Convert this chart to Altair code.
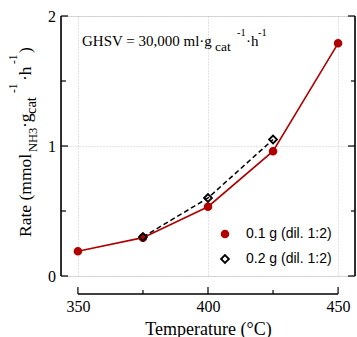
import altair as alt
import pandas as pd

# ---- data ----
temps_a = [350, 375, 400, 425, 450]
rate_a = [0.19, 0.295, 0.533, 0.96, 1.79]
temps_b = [375, 400, 425]
rate_b = [0.30, 0.60, 1.05]
series = ["0.1 g (dil. 1:2)", "0.2 g (dil. 1:2)"]

x_major = [350, 400, 450]
x_minor = [375, 425]
y_major = [0, 1, 2]
y_minor = [0.5, 1.5]
x_line_span = [350, 450]

# ---- layout ----
RED = "#b00000"
W, H = 294, 260          # plot area
OX, OY = 61, 16          # plot origin in page pixels
SERIF = "Liberation Serif"
SANS = "Liberation Sans"

df = pd.DataFrame({
    "T": temps_a + temps_b,
    "rate": rate_a + rate_b,
    "series": [series[0]] * len(temps_a) + [series[1]] * len(temps_b),
})

xscale = alt.Scale(domain=[343.5, 456.5], nice=False, zero=False)
yscale = alt.Scale(domain=[0, 2], nice=False, zero=False)

xaxis = alt.Axis(orient="bottom", values=x_major, grid=True, gridDash=[1, 2], gridColor="#c4c4c4",
                 domain=False, ticks=False, labelFont=SERIF, labelFontSize=16,
                 labelColor="black", labelPadding=4, offset=18,
                 title="Temperature (°C)", titleFont=SERIF, titleFontSize=18,
                 titleFontWeight="normal", titleColor="black", titlePadding=6,
                 format="d", labelFlush=False)
yaxis = alt.Axis(orient="left", values=y_major, grid=True, gridDash=[1, 2], gridColor="#c4c4c4",
                 domain=False, ticks=False, labels=False, title=None)

X = lambda f: alt.X(f, scale=xscale, axis=xaxis)
Y = lambda f: alt.Y(f, scale=yscale, axis=yaxis)

lineA = alt.Chart(df).transform_filter(alt.datum.series == series[0]).mark_line(
    color=RED, strokeWidth=1.6).encode(x=X("T:Q"), y=Y("rate:Q"))
lineB = alt.Chart(df).transform_filter(alt.datum.series == series[1]).mark_line(
    color="black", strokeWidth=1.5, strokeDash=[5, 3]).encode(x=X("T:Q"), y=Y("rate:Q"))

leg = alt.Legend(title=None, orient="none", legendX=157, legendY=211,
                 labelFont=SANS, labelFontSize=14, labelColor="black",
                 symbolStrokeWidth=1.8, rowPadding=10, labelOffset=14,
                 padding=0)
points = alt.Chart(df).mark_point(filled=False, strokeWidth=1.8, opacity=1).encode(
    x=X("T:Q"), y=Y("rate:Q"),
    shape=alt.Shape("series:N", scale=alt.Scale(domain=series, range=["circle", "diamond"]), legend=leg),
    fill=alt.Fill("series:N", scale=alt.Scale(domain=series, range=[RED, "transparent"]), legend=leg),
    stroke=alt.Stroke("series:N", scale=alt.Scale(domain=series, range=[RED, "black"]), legend=leg),
    size=alt.Size("series:N", scale=alt.Scale(domain=series, range=[46, 62]), legend=leg),
)

def vdata(vals):
    return alt.Data(values=[{"v": v} for v in vals])

def rule_y(vals, x0, x1):
    return alt.Chart(vdata(vals)).mark_rule(color="black", strokeWidth=1.2).encode(
        y=Y("v:Q"), x=alt.value(x0), x2=alt.value(x1))

def rule_x(vals, y0, y1):
    return alt.Chart(vdata(vals)).mark_rule(color="black", strokeWidth=1.2).encode(
        x=X("v:Q"), y=alt.value(y0), y2=alt.value(y1))

AXY = 278  # x-axis line position in plot pixels
ticks = [
    rule_y(y_major, 0, 7), rule_y(y_minor, 0, 5),
    rule_y(y_major, W, W - 7), rule_y(y_minor, W, W - 4),
    rule_x(x_major, AXY, AXY - 7), rule_x(x_minor, AXY, AXY - 4),
]
ylabels = alt.Chart(vdata(y_major)).mark_text(
    font=SERIF, fontSize=16, color="black", align="right", baseline="middle", dy=0.5
).encode(y=Y("v:Q"), x=alt.value(-5), text=alt.Text("v:Q", format="d"))

spines = [
    alt.Chart(vdata([0])).mark_rule(color="black", strokeWidth=1.6).encode(
        x=alt.value(0), y=alt.value(0), y2=alt.value(H)),
    alt.Chart(vdata([0])).mark_rule(color="black", strokeWidth=1.6).encode(
        x=alt.value(W), y=alt.value(0), y2=alt.value(H)),
    alt.Chart(alt.Data(values=[{"a": x_line_span[0], "b": x_line_span[1]}])).mark_rule(
        color="black", strokeWidth=1.6).encode(x=X("a:Q"), x2=alt.X2("b:Q"), y=alt.value(AXY)),
]

def txt(s, px, py, size, angle=0):
    return alt.Chart(vdata([0])).mark_text(
        text=s, font=SERIF, fontSize=size, color="black", align="left",
        baseline="alphabetic", angle=angle).encode(x=alt.value(px - OX), y=alt.value(py - OY))

# GHSV annotation (page pixel positions of pieces)
ghsv = [
    ("GHSV = 30,000 ml·g", 82, 45.5, 15),
    ("cat", 215, 50.5, 13.5),
    ("-1", 237, 36, 10.5),
    ("·h", 246, 45.5, 15),
    ("-1", 258, 36, 10.5),
]
# rotated y-axis title pieces: (text, baseline x, start y, size)
ytitle = [
    ("Rate (mmol", 31, 237, 17.5),
    ("NH3", 37, 152, 12.5),
    ("·g", 31, 128, 17.5),
    ("cat", 36, 114, 14.5),
    ("-1", 17, 93, 11.5),
    ("·h", 31, 81, 17.5),
    ("-1", 17, 64, 11.5),
    (")", 31, 53, 17.5),
]
texts = [txt(s, x, y, sz) for s, x, y, sz in ghsv] + \
        [txt(s, x, y, sz, angle=270) for s, x, y, sz in ytitle]

chart = alt.layer(*spines, *ticks, ylabels, lineA, lineB, points, *texts).properties(
    width=W, height=H,
    autosize=alt.AutoSizeParams(type="none"),
    padding={"left": OX, "top": OY, "right": 357 - OX - W, "bottom": 337 - OY - H},
).configure_view(stroke=None).configure(background="white")

chart.save("out.html", embed_options={"renderer": "svg", "actions": False})
